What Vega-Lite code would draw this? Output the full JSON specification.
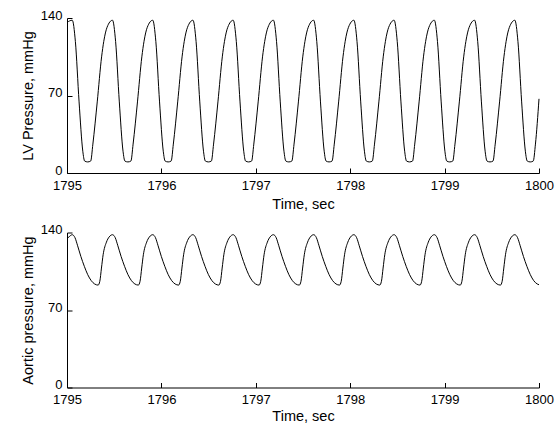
{
  "$schema": "https://vega.github.io/schema/vega-lite/v6.json",
  "background": "white",
  "padding": {"left": 20, "top": 9, "right": 5, "bottom": 0},
  "spacing": 12.5,
  "config": {
    "view": {"stroke": null},
    "font": "Liberation Sans",
    "axis": {
      "grid": false,
      "domainColor": "#000",
      "domainWidth": 1,
      "tickColor": "#000",
      "tickSize": -5,
      "tickWidth": 1,
      "labelFlush": false,
      "labelColor": "#000",
      "labelFont": "Liberation Sans",
      "labelFontSize": 13,
      "titleColor": "#000",
      "titleFont": "Liberation Sans",
      "titleFontSize": 14.5,
      "titleFontWeight": "normal"
    }
  },
  "datasets": {
    "lv": [
      {"t":1795,"p":136},{"t":1795.0558,"p":138},{"t":1795.0886,"p":118.9},{"t":1795.128,"p":64.2},{"t":1795.1673,"p":19.7},{"t":1795.187,"p":10.8},
      {"t":1795.219,"p":10},{"t":1795.251,"p":10.8},{"t":1795.2741,"p":26.1},{"t":1795.3203,"p":64.2},{"t":1795.3665,"p":104.9},{"t":1795.3896,"p":118.9},{"t":1795.4243,"p":131.6},{"t":1795.482,"p":138},{"t":1795.5148,"p":118.9},{"t":1795.5542,"p":64.2},{"t":1795.5935,"p":19.7},{"t":1795.6132,"p":10.8},
      {"t":1795.6452,"p":10},{"t":1795.6772,"p":10.8},{"t":1795.7003,"p":26.1},{"t":1795.7465,"p":64.2},{"t":1795.7927,"p":104.9},{"t":1795.8158,"p":118.9},{"t":1795.8505,"p":131.6},{"t":1795.9082,"p":138},{"t":1795.941,"p":118.9},{"t":1795.9804,"p":64.2},{"t":1796.0197,"p":19.7},{"t":1796.0394,"p":10.8},
      {"t":1796.0714,"p":10},{"t":1796.1034,"p":10.8},{"t":1796.1265,"p":26.1},{"t":1796.1727,"p":64.2},{"t":1796.2189,"p":104.9},{"t":1796.242,"p":118.9},{"t":1796.2767,"p":131.6},{"t":1796.3344,"p":138},{"t":1796.3672,"p":118.9},{"t":1796.4066,"p":64.2},{"t":1796.4459,"p":19.7},{"t":1796.4656,"p":10.8},
      {"t":1796.4976,"p":10},{"t":1796.5296,"p":10.8},{"t":1796.5527,"p":26.1},{"t":1796.5989,"p":64.2},{"t":1796.6451,"p":104.9},{"t":1796.6682,"p":118.9},{"t":1796.7029,"p":131.6},{"t":1796.7606,"p":138},{"t":1796.7934,"p":118.9},{"t":1796.8328,"p":64.2},{"t":1796.8721,"p":19.7},{"t":1796.8918,"p":10.8},
      {"t":1796.9238,"p":10},{"t":1796.9558,"p":10.8},{"t":1796.9789,"p":26.1},{"t":1797.0251,"p":64.2},{"t":1797.0713,"p":104.9},{"t":1797.0944,"p":118.9},{"t":1797.1291,"p":131.6},{"t":1797.1868,"p":138},{"t":1797.2196,"p":118.9},{"t":1797.259,"p":64.2},{"t":1797.2983,"p":19.7},{"t":1797.318,"p":10.8},
      {"t":1797.35,"p":10},{"t":1797.382,"p":10.8},{"t":1797.4051,"p":26.1},{"t":1797.4513,"p":64.2},{"t":1797.4975,"p":104.9},{"t":1797.5206,"p":118.9},{"t":1797.5553,"p":131.6},{"t":1797.613,"p":138},{"t":1797.6458,"p":118.9},{"t":1797.6852,"p":64.2},{"t":1797.7245,"p":19.7},{"t":1797.7442,"p":10.8},
      {"t":1797.7762,"p":10},{"t":1797.8082,"p":10.8},{"t":1797.8313,"p":26.1},{"t":1797.8775,"p":64.2},{"t":1797.9237,"p":104.9},{"t":1797.9468,"p":118.9},{"t":1797.9815,"p":131.6},{"t":1798.0392,"p":138},{"t":1798.072,"p":118.9},{"t":1798.1114,"p":64.2},{"t":1798.1507,"p":19.7},{"t":1798.1704,"p":10.8},
      {"t":1798.2024,"p":10},{"t":1798.2344,"p":10.8},{"t":1798.2575,"p":26.1},{"t":1798.3037,"p":64.2},{"t":1798.3499,"p":104.9},{"t":1798.373,"p":118.9},{"t":1798.4077,"p":131.6},{"t":1798.4654,"p":138},{"t":1798.4982,"p":118.9},{"t":1798.5376,"p":64.2},{"t":1798.5769,"p":19.7},{"t":1798.5966,"p":10.8},
      {"t":1798.6286,"p":10},{"t":1798.6606,"p":10.8},{"t":1798.6837,"p":26.1},{"t":1798.7299,"p":64.2},{"t":1798.7761,"p":104.9},{"t":1798.7992,"p":118.9},{"t":1798.8339,"p":131.6},{"t":1798.8916,"p":138},{"t":1798.9244,"p":118.9},{"t":1798.9638,"p":64.2},{"t":1799.0031,"p":19.7},{"t":1799.0228,"p":10.8},
      {"t":1799.0548,"p":10},{"t":1799.0868,"p":10.8},{"t":1799.1099,"p":26.1},{"t":1799.1561,"p":64.2},{"t":1799.2023,"p":104.9},{"t":1799.2254,"p":118.9},{"t":1799.2601,"p":131.6},{"t":1799.3178,"p":138},{"t":1799.3506,"p":118.9},{"t":1799.39,"p":64.2},{"t":1799.4293,"p":19.7},{"t":1799.449,"p":10.8},
      {"t":1799.481,"p":10},{"t":1799.513,"p":10.8},{"t":1799.5361,"p":26.1},{"t":1799.5823,"p":64.2},{"t":1799.6285,"p":104.9},{"t":1799.6516,"p":118.9},{"t":1799.6863,"p":131.6},{"t":1799.744,"p":138},{"t":1799.7768,"p":118.9},{"t":1799.8162,"p":64.2},{"t":1799.8555,"p":19.7},{"t":1799.8752,"p":10.8},
      {"t":1799.9072,"p":10},{"t":1799.9392,"p":10.8},{"t":1799.9623,"p":26.1},{"t":1800,"p":67}
    ],
    "ao": [
      {"t":1795,"p":134.5},{"t":1795.0206,"p":136},{"t":1795.0558,"p":138},{"t":1795.0848,"p":135.3},{"t":1795.1108,"p":128.5},{"t":1795.1468,"p":118.4},{"t":1795.1838,"p":109.4},
      {"t":1795.2198,"p":101.9},{"t":1795.2568,"p":96.5},{"t":1795.2928,"p":93.5},{"t":1795.3298,"p":92.5},{"t":1795.3475,"p":95.9},{"t":1795.3651,"p":107.9},{"t":1795.3828,"p":119.9},{"t":1795.4178,"p":131.3},{"t":1795.4468,"p":136},{"t":1795.482,"p":138},{"t":1795.511,"p":135.3},{"t":1795.537,"p":128.5},{"t":1795.573,"p":118.4},{"t":1795.61,"p":109.4},
      {"t":1795.646,"p":101.9},{"t":1795.683,"p":96.5},{"t":1795.719,"p":93.5},{"t":1795.756,"p":92.5},{"t":1795.7737,"p":95.9},{"t":1795.7913,"p":107.9},{"t":1795.809,"p":119.9},{"t":1795.844,"p":131.3},{"t":1795.873,"p":136},{"t":1795.9082,"p":138},{"t":1795.9372,"p":135.3},{"t":1795.9632,"p":128.5},{"t":1795.9992,"p":118.4},{"t":1796.0362,"p":109.4},
      {"t":1796.0722,"p":101.9},{"t":1796.1092,"p":96.5},{"t":1796.1452,"p":93.5},{"t":1796.1822,"p":92.5},{"t":1796.1999,"p":95.9},{"t":1796.2175,"p":107.9},{"t":1796.2352,"p":119.9},{"t":1796.2702,"p":131.3},{"t":1796.2992,"p":136},{"t":1796.3344,"p":138},{"t":1796.3634,"p":135.3},{"t":1796.3894,"p":128.5},{"t":1796.4254,"p":118.4},{"t":1796.4624,"p":109.4},
      {"t":1796.4984,"p":101.9},{"t":1796.5354,"p":96.5},{"t":1796.5714,"p":93.5},{"t":1796.6084,"p":92.5},{"t":1796.6261,"p":95.9},{"t":1796.6437,"p":107.9},{"t":1796.6614,"p":119.9},{"t":1796.6964,"p":131.3},{"t":1796.7254,"p":136},{"t":1796.7606,"p":138},{"t":1796.7896,"p":135.3},{"t":1796.8156,"p":128.5},{"t":1796.8516,"p":118.4},{"t":1796.8886,"p":109.4},
      {"t":1796.9246,"p":101.9},{"t":1796.9616,"p":96.5},{"t":1796.9976,"p":93.5},{"t":1797.0346,"p":92.5},{"t":1797.0523,"p":95.9},{"t":1797.0699,"p":107.9},{"t":1797.0876,"p":119.9},{"t":1797.1226,"p":131.3},{"t":1797.1516,"p":136},{"t":1797.1868,"p":138},{"t":1797.2158,"p":135.3},{"t":1797.2418,"p":128.5},{"t":1797.2778,"p":118.4},{"t":1797.3148,"p":109.4},
      {"t":1797.3508,"p":101.9},{"t":1797.3878,"p":96.5},{"t":1797.4238,"p":93.5},{"t":1797.4608,"p":92.5},{"t":1797.4785,"p":95.9},{"t":1797.4961,"p":107.9},{"t":1797.5138,"p":119.9},{"t":1797.5488,"p":131.3},{"t":1797.5778,"p":136},{"t":1797.613,"p":138},{"t":1797.642,"p":135.3},{"t":1797.668,"p":128.5},{"t":1797.704,"p":118.4},{"t":1797.741,"p":109.4},
      {"t":1797.777,"p":101.9},{"t":1797.814,"p":96.5},{"t":1797.85,"p":93.5},{"t":1797.887,"p":92.5},{"t":1797.9047,"p":95.9},{"t":1797.9223,"p":107.9},{"t":1797.94,"p":119.9},{"t":1797.975,"p":131.3},{"t":1798.004,"p":136},{"t":1798.0392,"p":138},{"t":1798.0682,"p":135.3},{"t":1798.0942,"p":128.5},{"t":1798.1302,"p":118.4},{"t":1798.1672,"p":109.4},
      {"t":1798.2032,"p":101.9},{"t":1798.2402,"p":96.5},{"t":1798.2762,"p":93.5},{"t":1798.3132,"p":92.5},{"t":1798.3309,"p":95.9},{"t":1798.3485,"p":107.9},{"t":1798.3662,"p":119.9},{"t":1798.4012,"p":131.3},{"t":1798.4302,"p":136},{"t":1798.4654,"p":138},{"t":1798.4944,"p":135.3},{"t":1798.5204,"p":128.5},{"t":1798.5564,"p":118.4},{"t":1798.5934,"p":109.4},
      {"t":1798.6294,"p":101.9},{"t":1798.6664,"p":96.5},{"t":1798.7024,"p":93.5},{"t":1798.7394,"p":92.5},{"t":1798.7571,"p":95.9},{"t":1798.7747,"p":107.9},{"t":1798.7924,"p":119.9},{"t":1798.8274,"p":131.3},{"t":1798.8564,"p":136},{"t":1798.8916,"p":138},{"t":1798.9206,"p":135.3},{"t":1798.9466,"p":128.5},{"t":1798.9826,"p":118.4},{"t":1799.0196,"p":109.4},
      {"t":1799.0556,"p":101.9},{"t":1799.0926,"p":96.5},{"t":1799.1286,"p":93.5},{"t":1799.1656,"p":92.5},{"t":1799.1833,"p":95.9},{"t":1799.2009,"p":107.9},{"t":1799.2186,"p":119.9},{"t":1799.2536,"p":131.3},{"t":1799.2826,"p":136},{"t":1799.3178,"p":138},{"t":1799.3468,"p":135.3},{"t":1799.3728,"p":128.5},{"t":1799.4088,"p":118.4},{"t":1799.4458,"p":109.4},
      {"t":1799.4818,"p":101.9},{"t":1799.5188,"p":96.5},{"t":1799.5548,"p":93.5},{"t":1799.5918,"p":92.5},{"t":1799.6095,"p":95.9},{"t":1799.6271,"p":107.9},{"t":1799.6448,"p":119.9},{"t":1799.6798,"p":131.3},{"t":1799.7088,"p":136},{"t":1799.744,"p":138},{"t":1799.773,"p":135.3},{"t":1799.799,"p":128.5},{"t":1799.835,"p":118.4},{"t":1799.872,"p":109.4},
      {"t":1799.908,"p":101.9},{"t":1799.9442,"p":96.5},{"t":1799.981,"p":93.5},{"t":1800,"p":92.8}
    ]
  },
  "vconcat": [
    {
      "width": 472,
      "height": 155,
      "data": {"name": "lv"},
      "mark": {"type": "line", "color": "#000", "strokeWidth": 1, "interpolate": "monotone"},
      "encoding": {
        "x": {"field": "t", "type": "quantitative", "scale": {"domain": [1795, 1800], "nice": false, "zero": false},
              "axis": {"values": [1795, 1796, 1797, 1798, 1799, 1800], "format": "d", "title": "Time, sec", "labelPadding": 11, "titlePadding": 5}},
        "y": {"field": "p", "type": "quantitative", "scale": {"domain": [0, 140], "nice": false},
              "axis": {"values": [0, 70, 140], "title": "LV Pressure, mmHg", "labelPadding": 10, "labelOffset": -3, "titlePadding": 5}}
      }
    },
    {
      "width": 472,
      "height": 155,
      "data": {"name": "ao"},
      "mark": {"type": "line", "color": "#000", "strokeWidth": 1, "interpolate": "monotone"},
      "encoding": {
        "x": {"field": "t", "type": "quantitative", "scale": {"domain": [1795, 1800], "nice": false, "zero": false},
              "axis": {"values": [1795, 1796, 1797, 1798, 1799, 1800], "format": "d", "title": "Time, sec", "labelPadding": 11, "titlePadding": 3}},
        "y": {"field": "p", "type": "quantitative", "scale": {"domain": [0, 140], "nice": false},
              "axis": {"values": [0, 70, 140], "title": "Aortic pressure, mmHg", "labelPadding": 10, "labelOffset": -3, "titlePadding": 5}}
      }
    }
  ]
}
